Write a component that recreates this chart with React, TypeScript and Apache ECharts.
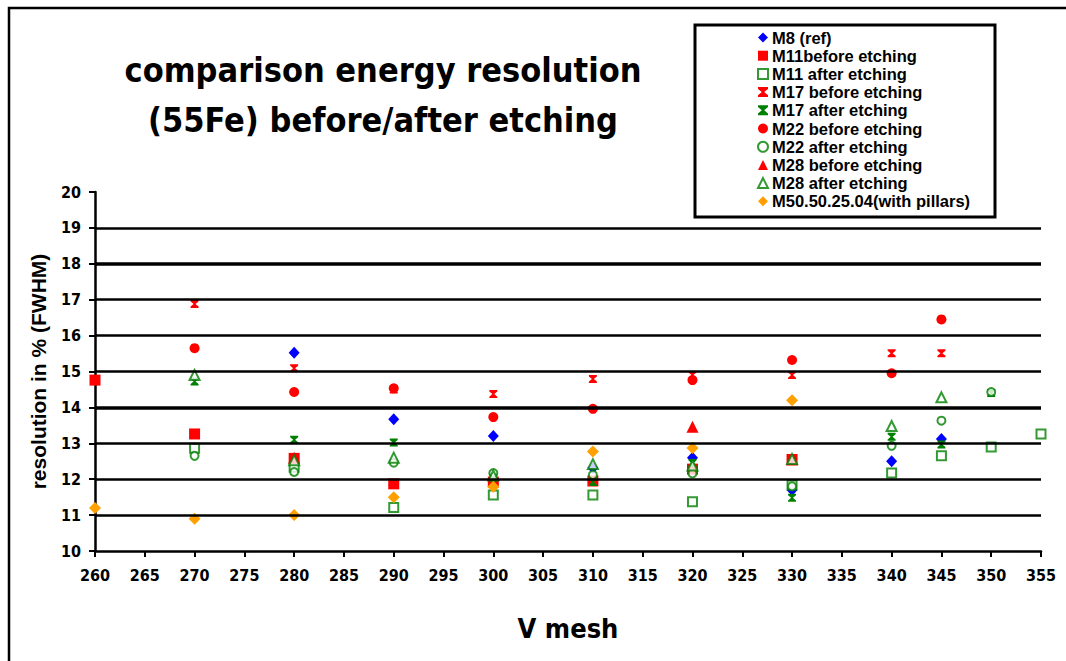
import React, { useEffect, useRef } from "react";
import * as echarts from "echarts";

const xTickMin = 260;
const xTickMax = 355;
const yTickMin = 10;
const yTickMax = 20;
const gridValues = [11, 12, 13, 14, 15, 16, 17, 18, 19];

const m8Ref = [[280, 15.52], [290, 13.67], [300, 13.2], [310, 12.31], [320, 12.6], [330, 11.7], [340, 12.5], [345, 13.12]];
const m11Before = [[260, 14.76], [270, 13.26], [280, 12.58], [290, 11.87], [300, 11.92], [310, 11.95], [320, 12.28], [330, 12.55]];
const m11After = [[270, 12.86], [280, 12.33], [290, 11.21], [300, 11.56], [310, 11.56], [320, 11.37], [330, 11.84], [340, 12.17], [345, 12.65], [350, 12.9], [355, 13.26]];
const m17Before = [[270, 16.88], [280, 15.09], [290, 14.5], [300, 14.37], [310, 14.79], [320, 14.9], [330, 14.9], [340, 15.51], [345, 15.51]];
const m17After = [[270, 14.72], [280, 13.1], [290, 13.02], [300, 12.05], [310, 11.92], [320, 12.45], [330, 11.48], [340, 13.18], [345, 12.97], [350, 14.4]];
const m22Before = [[270, 15.65], [280, 14.43], [290, 14.53], [300, 13.73], [310, 13.96], [320, 14.76], [330, 15.32], [340, 14.95], [345, 16.45]];
const m22After = [[270, 12.65], [280, 12.2], [290, 12.46], [300, 12.17], [310, 12.12], [320, 12.16], [330, 11.8], [340, 12.93], [345, 13.63], [350, 14.43]];
const m28Before = [[280, 12.6], [320, 13.46], [330, 12.55]];
const m28After = [[270, 14.9], [280, 12.53], [290, 12.6], [300, 12.1], [310, 12.42], [320, 12.38], [330, 12.56], [340, 13.48], [345, 14.28]];
const m50 = [[260, 11.2], [270, 10.9], [280, 11.0], [290, 11.5], [300, 11.79], [310, 12.77], [320, 12.87], [330, 14.2]];

const legendNames = [
  "M8 (ref)",
  "M11before etching",
  "M11 after etching",
  "M17 before etching",
  "M17 after etching",
  "M22 before etching",
  "M22 after etching",
  "M28 before etching",
  "M28 after etching",
  "M50.50.25.04(with pillars)",
];

const NARROW = "'Liberation Sans Narrow', 'DejaVu Sans Condensed', 'Arial Narrow', sans-serif";
const SANS = "'Liberation Sans', Arial, sans-serif";
const STAR = "path://M0,0 H10 V1.8 L6.2,5 L10,8.2 V10 H0 V8.2 L3.8,5 L0,1.8 Z";

const BLUE = "#0000ff";
const RED = "#ff0000";
const GREEN = "#008000";
const ORANGE = "#ffa000";

export default function App() {
  const ref = useRef<HTMLDivElement>(null);
  useEffect(() => {
    if (!ref.current) return;
    const chart = echarts.init(ref.current, null, { renderer: "svg" });
    const mk = (name: string, data: number[][], symbol: string, color: string, size: any, empty = false) => ({
      name,
      type: "scatter",
      data,
      symbol,
      symbolSize: size,
      itemStyle: empty ? { color, borderColor: color, borderWidth: 2 } : { color, opacity: 1 },
      emphasis: { disabled: true },
    });
    chart.setOption({
      animation: false,
      backgroundColor: "#ffffff",
      title: {
        text: "comparison energy resolution\n(55Fe) before/after etching",
        left: 378,
        top: 40,
        textAlign: "center",
        textStyle: { fontFamily: NARROW, fontWeight: "bold", fontSize: 34, lineHeight: 50, color: "#000" },
      },
      graphic: [
        { type: "rect", shape: { x: 9, y: 8, width: 1070, height: 670 }, style: { fill: "none", stroke: "#000", lineWidth: 2.5 }, z: 0, silent: true },
        { type: "rect", shape: { x: 695, y: 25, width: 300, height: 192 }, style: { fill: "#fff", stroke: "#000", lineWidth: 3 }, z: 10, silent: true },
      ],
      legend: {
        orient: "vertical",
        left: 757,
        top: 29,
        padding: 0,
        itemWidth: 10,
        itemHeight: 10,
        itemGap: 1.2,
        z: 20,
        data: legendNames,
        textStyle: { fontFamily: SANS, fontWeight: "bold", fontSize: 16.5, lineHeight: 17, color: "#000", padding: [0, 0, 0, -1] },
      },
      grid: { left: 95, right: 25, top: 192, bottom: 110 },
      xAxis: {
        type: "value",
        min: xTickMin,
        max: xTickMax,
        interval: 5,
        name: "V mesh",
        nameLocation: "middle",
        nameGap: 64,
        nameTextStyle: { fontFamily: NARROW, fontWeight: "bold", fontSize: 27, color: "#000" },
        axisLine: { show: true, onZero: false, lineStyle: { color: "#000", width: 2.5 } },
        axisTick: { show: true, length: 6, lineStyle: { color: "#000", width: 2 } },
        axisLabel: { margin: 16, fontFamily: NARROW, fontWeight: "bold", fontSize: 16, color: "#000" },
        splitLine: { show: false },
      },
      yAxis: {
        type: "value",
        min: yTickMin,
        max: yTickMax,
        interval: 1,
        name: "resolution in % (FWHM)",
        nameLocation: "middle",
        nameGap: 46,
        nameTextStyle: { fontFamily: SANS, fontWeight: "bold", fontSize: 21, color: "#000" },
        axisLine: { show: true, onZero: false, lineStyle: { color: "#000", width: 2.5 } },
        axisTick: { show: true, length: 6, lineStyle: { color: "#000", width: 2 } },
        axisLabel: { margin: 14, fontFamily: NARROW, fontWeight: "bold", fontSize: 16, color: "#000" },
        splitLine: { show: false },
      },
      series: [
        {
          name: "grid",
          type: "scatter",
          data: [],
          silent: true,
          markLine: {
            silent: true,
            symbol: ["none", "none"],
            label: { show: false },
            lineStyle: { color: "#000", width: 2.5, type: "solid" },
            data: gridValues.map((v) => ({ yAxis: v, lineStyle: { width: v === 14 || v === 18 ? 3.5 : 2.5, color: "#000", type: "solid" } })),
          },
        },
        mk("M8 (ref)", m8Ref, "diamond", BLUE, [11, 12]),
        mk("M11before etching", m11Before, "rect", RED, 11),
        mk("M11 after etching", m11After, "emptyRect", GREEN, 9, true),
        mk("M17 before etching", m17Before, STAR, RED, 8),
        mk("M17 after etching", m17After, STAR, GREEN, 8),
        mk("M22 before etching", m22Before, "circle", RED, 10),
        mk("M22 after etching", m22After, "emptyCircle", GREEN, 8, true),
        mk("M28 before etching", m28Before, "triangle", RED, 12),
        mk("M28 after etching", m28After, "emptyTriangle", GREEN, 10, true),
        mk("M50.50.25.04(with pillars)", m50, "diamond", ORANGE, [12, 12]),
      ],
    });
    return () => chart.dispose();
  }, []);
  return <div ref={ref} style={{ position: "absolute", left: 0, top: 0, width: 1066, height: 661 }} />;
}
